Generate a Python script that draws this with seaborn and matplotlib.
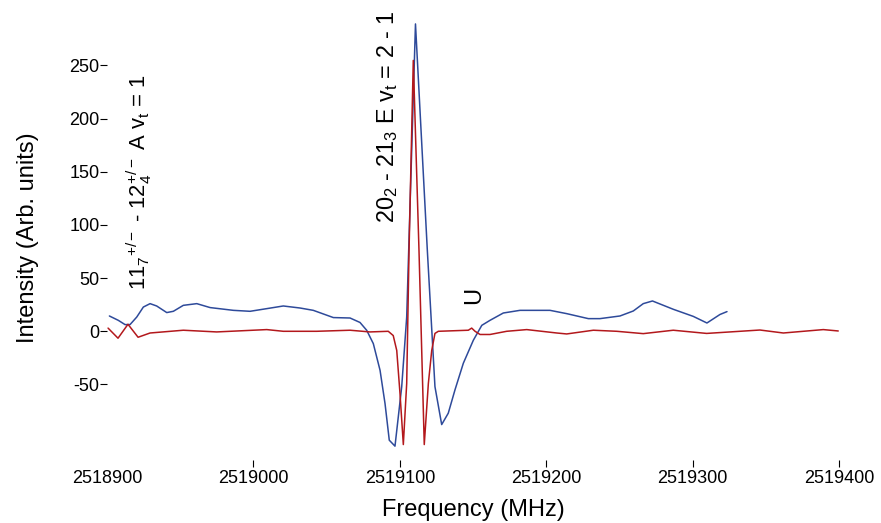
import numpy as np
import pandas as pd
import matplotlib
matplotlib.use("Agg")
import matplotlib.pyplot as plt
import seaborn as sns

# blue trace (coarse scan)
blue_freq = [2518901.6, 2518907.7, 2518912.3, 2518915.7, 2518920.3,
             2518924.8, 2518929.4, 2518933.9, 2518940.8, 2518945.3,
             2518952.1, 2518961.3, 2518970.4, 2518986.3, 2518997.7,
             2519009.1, 2519020.4, 2519031.8, 2519040.9, 2519054.6,
             2519066.0, 2519072.8, 2519077.4, 2519081.9, 2519086.5,
             2519089.9, 2519092.8, 2519096.7, 2519101.3, 2519104.7,
             2519110.7, 2519118.8, 2519124.0, 2519128.6, 2519133.1,
             2519137.7, 2519143.4, 2519150.2, 2519156.0, 2519161.6,
             2519170.7, 2519182.1, 2519202.6, 2519214.0, 2519228.8,
             2519236.7, 2519250.4, 2519259.5, 2519266.3, 2519272.6,
             2519286.8, 2519300.5, 2519309.8, 2519318.7, 2519323.5]
blue_int = [14.4, 10.3, 6.3, 6.3, 13.4,
            22.8, 26.0, 23.8, 17.6, 18.8,
            24.4, 26.0, 22.3, 19.7, 18.8,
            21.3, 23.8, 21.9, 19.7, 12.9,
            12.5, 8.3, 0.9, -11.6, -36.7,
            -68.0, -102.4, -108.0, -52.0, 13.4,
            289.0, 76.0, -52.0, -87.7, -77.0,
            -55.0, -30.0, -8.5, 5.6, 10.3,
            17.2, 19.7, 19.7, 16.6, 11.9,
            11.9, 14.4, 19.1, 26.0, 28.5,
            20.7, 14.0, 7.8, 15.8, 18.5]

# red trace (fine scan)
red_freq = [2518900.7, 2518907.5, 2518914.3, 2518921.2, 2518929.4,
            2518952.1, 2518974.9, 2519009.1, 2519020.4, 2519043.2,
            2519066.0, 2519079.6, 2519092.1, 2519095.5, 2519097.9,
            2519100.1, 2519102.4, 2519104.7, 2519106.3, 2519109.2,
            2519113.1, 2519116.7, 2519119.5, 2519121.8, 2519124.0,
            2519126.3, 2519146.8, 2519149.1, 2519151.4, 2519154.8,
            2519161.6, 2519173.0, 2519186.7, 2519207.2, 2519214.0,
            2519232.2, 2519248.2, 2519266.3, 2519286.8, 2519309.6,
            2519332.4, 2519346.0, 2519362.0, 2519389.3, 2519399.5]
red_int = [3.0, -6.5, 6.6, -5.6, -1.6,
           1.0, -0.6, 1.6, 0.0, 0.0,
           1.0, -0.6, 0.0, -4.0, -18.0,
           -58.0, -106.5, -49.0, 76.0, 254.7,
           76.0, -106.5, -49.0, -18.0, -2.0,
           0.0, 1.0, 3.0, 0.0, -3.0,
           -3.0, 0.0, 1.6, -1.6, -2.5,
           1.0, 0.0, -2.2, 1.0, -2.0,
           0.0, 1.2, -1.6, 1.6, 0.3]

x_ticks = [2518900, 2519000, 2519100, 2519200, 2519300, 2519400]
y_ticks = [-50, 0, 50, 100, 150, 200, 250]

sns.set_style("white")
plt.rcParams['font.family'] = ['Liberation Sans', 'DejaVu Sans']
plt.rcParams['mathtext.fontset'] = 'custom'
plt.rcParams['mathtext.rm'] = 'Liberation Sans'
plt.rcParams['mathtext.it'] = 'Liberation Sans:italic'
plt.rcParams['axes.unicode_minus'] = False
plt.rcParams['text.color'] = 'black'
plt.rcParams['axes.labelcolor'] = 'black'
plt.rcParams['xtick.color'] = 'black'
plt.rcParams['ytick.color'] = 'black'

blue_df = pd.DataFrame({'freq': blue_freq, 'intensity': blue_int})
red_df = pd.DataFrame({'freq': red_freq, 'intensity': red_int})

fig = plt.figure(figsize=(8.81, 5.23), dpi=100)
ax = fig.add_axes([0.1215, 0.1205, 0.8308, 0.85])

sns.lineplot(data=blue_df, x='freq', y='intensity', ax=ax, color='#2e4a9a',
             linewidth=1.1, sort=False)
sns.lineplot(data=red_df, x='freq', y='intensity', ax=ax, color='#b3181c',
             linewidth=1.1, sort=False)

ax.set_xlim(2518900, 2519400)
ax.set_ylim(-121, 297)
ax.set_xticks(x_ticks)
ax.set_xticklabels([str(t) for t in x_ticks])
ax.set_yticks(y_ticks)
ax.tick_params(axis='both', direction='out', length=5, width=0.8,
               color='black', labelcolor='black', labelsize=13)
ax.tick_params(axis='y', pad=0.5, left=True)
ax.tick_params(axis='x', pad=2, bottom=True)
ax.xaxis.get_major_ticks()[0].tick1line.set_visible(False)
sns.despine(ax=ax, left=True, bottom=True)

ax.set_xlabel('Frequency (MHz)', fontsize=17, labelpad=9)
ax.set_ylabel('Intensity (Arb. units)', fontsize=17, labelpad=22)

ax.text(2518921.9, 38.5,
        r'11$_7$$^{+/-}$ - 12$_4^{+/-}$ A v$_\mathrm{t}$ = 1',
        rotation=90, ha='center', va='bottom', fontsize=15.8)
ax.text(2519091.6, 101.5, r'20$_2$ - 21$_3$ E v$_\mathrm{t}$ = 2 - 1',
        rotation=90, ha='center', va='bottom', fontsize=16.8)
ax.text(2519150.7, 33.8, 'U', rotation=90, ha='center', va='center',
        fontsize=17)

plt.savefig('out.png', dpi=100)
